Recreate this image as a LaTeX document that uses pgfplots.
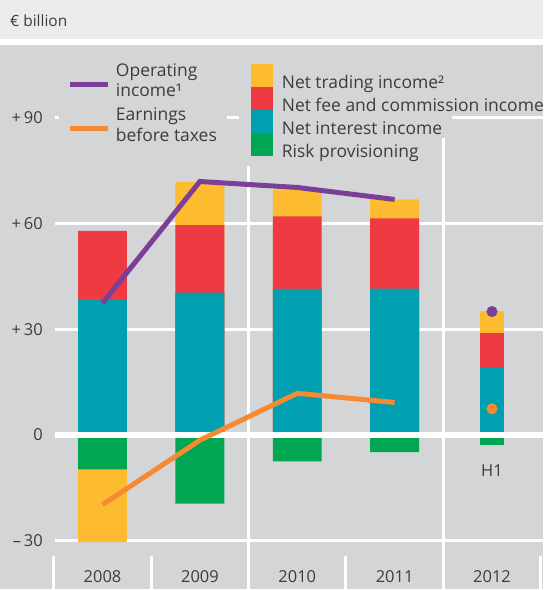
\documentclass[border=0pt]{standalone}
\usepackage{pgfplots}
\pgfplotsset{compat=1.18}
\usepackage{fontspec}
\setmainfont{Open Sans}
\definecolor{bgGray}{HTML}{D4D5D7}
\definecolor{bgLight}{HTML}{EBEBED}
\definecolor{txt}{HTML}{3C3C3C}
\definecolor{cPur}{HTML}{7B3F98}
\definecolor{cOra}{HTML}{F58A33}
\definecolor{cYel}{HTML}{FDBB30}
\definecolor{cRed}{HTML}{EE3A43}
\definecolor{cTea}{HTML}{00A0B0}
\definecolor{cGre}{HTML}{00A651}
\newcommand{\lf}{\fontsize{16.5}{19.5}\selectfont}
\newcommand{\legf}{\fontsize{17.5}{20.5}\selectfont}
\begin{document}
\begin{tikzpicture}[x=1pt,y=1pt]
\fill[bgLight] (0,551) rectangle (544,590);
\fill[white] (0,545) rectangle (544,551);
\fill[bgGray] (0,0) rectangle (544,545);
\node[anchor=base west, inner sep=0pt, text=txt, font=\fontsize{15.5}{18}\selectfont] at (10,563) {€ billion};
% ---------- bars ----------
\begin{axis}[at={(54pt,0pt)}, anchor=south west, scale only axis,
  width=490pt, height=545pt, xmin=-0.5, xmax=4.52, ymin=-43.58, ymax=110.66,
  axis line style={draw=none}, major tick length=0pt, clip=false,
  ytick={-30,0,30,60,90}, yticklabels={–\,30,0,+\,30,+\,60,+\,90},
  yticklabel style={anchor=east, inner sep=0pt, xshift=-11pt, font=\lf, text=txt},
  xtick={0,1,2,3,4}, xticklabels={2008,2009,2010,2011,2012},
  xticklabel style={anchor=base, inner sep=0pt, yshift=6pt, font=\lf, text=txt},
  legend cell align=left,
  legend style={at={(axis cs:1.518,105.3)}, anchor=north west, draw=none, fill=none,
    inner sep=0pt, row sep=-6.3pt, column sep=9pt, font=\legf, text=txt,
    nodes={inner sep=0pt, text height=17.7pt, text depth=4.8pt}},
]
% grid
\draw[white, line width=3pt] (axis cs:-0.49,-30) -- (axis cs:4.52,-30);
\draw[white, line width=3pt] (axis cs:-0.49,30) -- (axis cs:4.52,30);
\draw[white, line width=3pt] (axis cs:-0.49,60) -- (axis cs:4.52,60);
\draw[white, line width=3pt] (axis cs:-0.49,90) -- (axis cs:-0.45,90);
\draw[white, line width=3pt] (axis cs:1.283,90) -- (axis cs:1.406,90);
\draw[white, line width=3pt] (axis cs:3.588,90) -- (axis cs:4.52,90);
\draw[white, line width=3pt] (axis cs:1.5,76.4) -- (axis cs:1.5,-43.58);
\draw[white, line width=3pt] (axis cs:3.5,84.3) -- (axis cs:3.5,-43.58);
\draw[white, line width=3pt] (axis cs:-0.5,-34.25) -- (axis cs:-0.5,-43.58);
\draw[white, line width=3pt] (axis cs:0.5,-34.25) -- (axis cs:0.5,-43.58);
\draw[white, line width=3pt] (axis cs:2.5,-34.25) -- (axis cs:2.5,-43.58);
\draw[white, line width=3pt] (axis cs:4.5,-34.25) -- (axis cs:4.5,-43.58);
% bars (overlaid, cumulative tops)
\addplot[ybar, bar width=49pt, bar shift=0pt, fill=cYel, draw=none, forget plot] coordinates {(0,-30.4) (1,71.7) (2,69.6) (3,66.8)};
\addplot[ybar, bar width=49pt, bar shift=0pt, fill=cRed, draw=none, forget plot] coordinates {(0,57.9) (1,59.5) (2,62.0) (3,61.4)};
\addplot[ybar, bar width=49pt, bar shift=0pt, fill=cTea, draw=none, forget plot] coordinates {(0,38.5) (1,40.4) (2,41.4) (3,41.5)};
\addplot[ybar, bar width=49pt, bar shift=0pt, fill=cGre, draw=none, forget plot] coordinates {(0,-9.8) (1,-19.5) (2,-7.5) (3,-4.9)};
\addplot[ybar, bar width=25pt, bar shift=0pt, fill=cYel, draw=none, forget plot] coordinates {(4,35.1)};
\addplot[ybar, bar width=25pt, bar shift=0pt, fill=cRed, draw=none, forget plot] coordinates {(4,28.9)};
\addplot[ybar, bar width=25pt, bar shift=0pt, fill=cTea, draw=none, forget plot] coordinates {(4,19.4)};
\addplot[ybar, bar width=25pt, bar shift=0pt, fill=cGre, draw=none, forget plot] coordinates {(4,-2.8)};
\draw[white, line width=6pt] (axis cs:-0.49,0) -- (axis cs:4.52,0);
\node[anchor=base, inner sep=0pt, font=\lf, text=txt] at (axis cs:4,-11.9) {H1};
\addlegendimage{legend image code/.code={\fill[cYel] (0pt,-4.8pt) rectangle (22pt,17.8pt);}}
\addlegendentry{Net trading income²}
\addlegendimage{legend image code/.code={\fill[cRed] (0pt,-4.8pt) rectangle (22pt,17.8pt);}}
\addlegendentry{Net fee and commission income}
\addlegendimage{legend image code/.code={\fill[cTea] (0pt,-4.8pt) rectangle (22pt,17.8pt);}}
\addlegendentry{Net interest income}
\addlegendimage{legend image code/.code={\fill[cGre] (0pt,-4.8pt) rectangle (22pt,17.8pt);}}
\addlegendentry{Risk provisioning}
\end{axis}
% ---------- lines ----------
\begin{axis}[at={(54pt,0pt)}, anchor=south west, scale only axis,
  width=490pt, height=545pt, xmin=-0.5, xmax=4.52, ymin=-43.58, ymax=110.66,
  hide axis, clip=false,
  legend cell align=left,
  legend image code/.code={\draw[#1, line width=5pt] (0pt,-3.5pt) -- (38pt,-3.5pt);},
  legend style={at={(axis cs:-0.366,105.5)}, anchor=north west, draw=none, fill=none,
    inner sep=0pt, row sep=10pt, column sep=6pt, font=\legf, text=txt,
    nodes={inner sep=0pt, align=left}},
]
\addplot[cPur, line width=5pt] coordinates {(0,37.4) (1,71.9) (2,70.2) (3,66.8)};
\addlegendentry{Operating\\income¹}
\addplot[cOra, line width=5pt] coordinates {(0,-19.8) (1,-1.5) (2,11.8) (3,9.2)};
\addlegendentry{Earnings\\before taxes}
\addplot[only marks, mark=*, mark size=5.3pt, cPur, forget plot] coordinates {(4,35.0)};
\addplot[only marks, mark=*, mark size=5.3pt, cOra, forget plot] coordinates {(4,7.4)};
\end{axis}
\end{tikzpicture}
\end{document}
